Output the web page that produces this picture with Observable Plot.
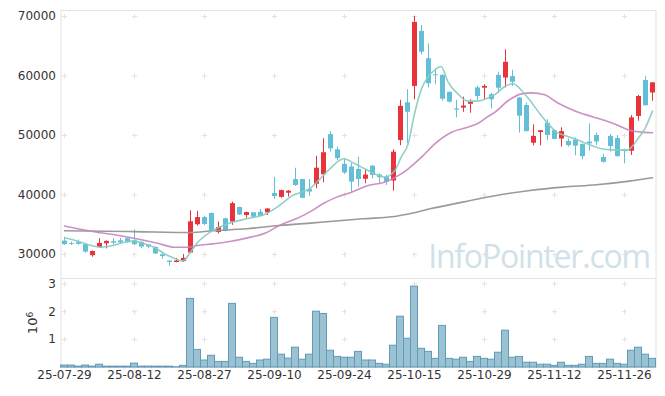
<!DOCTYPE html>
<html><head><meta charset="utf-8">
<script src="https://cdn.jsdelivr.net/npm/d3@7"></script>
<script src="https://cdn.jsdelivr.net/npm/@observablehq/plot@0.6"></script>
<style>
body{margin:0;background:#fff;}
#chart{width:665px;height:396px;}
#chart svg{display:block;}
</style></head><body><div id="chart"></div>
<script>
// x tick labels (every 10th trading day)
const tickLabels = ["25-07-29","25-08-12","25-08-27","25-09-10","25-09-24","25-10-15","25-10-29","25-11-12","25-11-26"];
const tickIndex = [0,10,20,30,40,50,60,70,80];
const priceTicks = [30000,40000,50000,60000,70000];
const volumeTicks = [1,2,3];

const open = [32250,31850,32000,31650,29800,31150,31800,32150,32300,32650,
 32300,32050,31600,31200,29950,28900,28650,28800,30250,35000,
 36200,36900,33700,36000,35450,37900,36550,37000,37100,37000,
 40250,39600,40300,42600,42600,40900,41800,43400,50150,47600,
 45150,44700,44300,42650,44850,43350,43000,42350,49150,55500,
 58250,67500,62900,60200,60100,57250,54450,54600,55250,58000,
 57950,56850,60100,59650,59900,56300,55050,48700,50500,52050,
 50800,49400,49000,49250,48500,48900,50000,46300,49850,49500,
 47600,47350,53200,59250,57150];
const high = [32900,32100,32450,31700,30600,32650,32300,32650,32700,32700,
 34150,32100,31700,31250,30100,28950,29350,30000,37350,37250,
 36450,36950,35450,36100,38800,37950,37100,37050,37550,37700,
 42950,40800,40750,44500,42650,42600,46500,49450,50650,48050,
 46100,45350,46350,44250,44900,43550,43300,47600,55900,57700,
 70000,68500,65400,60900,60200,57300,55900,56450,56000,58250,
 58550,57100,60650,64400,60950,56400,55450,51800,50850,52650,
 50950,51300,49450,49600,48550,51950,50400,46800,50150,50000,
 47700,53350,56750,59900,58900];
const low = [31550,31500,31550,30200,29550,31050,30950,31600,31800,31900,
 31500,31000,30950,30000,29200,28050,28600,28700,30150,34750,
 34850,33750,33450,33800,34900,36550,36100,36100,36350,36550,
 39250,39450,39650,41450,39350,39800,41050,42050,47200,45800,
 43450,40500,41300,41900,42700,41950,41600,40650,48300,48600,
 56000,63550,58000,58550,55750,55450,52950,53900,53750,55900,
 55900,54450,57100,58000,58250,50400,50600,48250,48250,49150,
 49300,48050,48050,46600,45900,47350,48300,45350,47200,46350,
 45250,46650,52400,54950,55750];
const close = [31650,31700,31700,30400,30500,31850,32200,31900,31950,32050,
 31650,31250,31250,30100,29650,28650,28900,29350,35500,36200,
 35050,33850,34550,33900,38550,36650,37050,36250,36400,37650,
 39750,40750,40650,41600,39450,40500,44500,47100,47750,46100,
 43700,42150,42600,43350,43300,42900,42150,47200,54900,53900,
 69000,64000,58700,60050,56100,55600,54250,54950,55600,56550,
 58250,56000,57950,62300,58950,53250,50650,49850,50800,50000,
 49350,50650,48300,48200,46450,48600,48900,45500,48150,46450,
 47350,52950,56550,55000,58850];
// volume in millions
const volume = [0.07,0.07,0.03,0.07,0.03,0.10,0.03,0.03,0.03,0.03,
 0.14,0.03,0.03,0.03,0.03,0.03,0.01,0.06,2.46,0.63,
 0.25,0.42,0.20,0.20,2.28,0.35,0.20,0.13,0.25,0.28,
 1.78,0.46,0.32,0.71,0.28,0.46,2.00,1.92,0.60,0.38,
 0.35,0.35,0.56,0.25,0.25,0.13,0.10,0.78,1.82,1.03,
 2.90,0.67,0.56,0.31,1.49,0.31,0.28,0.35,0.20,0.38,
 0.31,0.28,0.53,1.32,0.35,0.38,0.17,0.17,0.10,0.10,
 0.06,0.17,0.06,0.06,0.10,0.38,0.13,0.13,0.28,0.13,
 0.10,0.60,0.71,0.46,0.31];

// moving averages (position in trading days, value)
const ma5Index = [0,1.9,3.8,5.2,6.9,8.6,10,11.4,12.8,14.3,15.5,16.9,18,19,21,23.6,26,28.8,30.7,32.6,34.1,35,36.5,37.9,39.9,41.5,42.9,44.3,45.7,47.2,48.1,49.1,50,51,51.9,52.9,53.8,54.8,56.2,57.6,59.1,60.5,61.5,62.9,64.1,65.3,66.7,67.9,69.1,70.3,71.5,72.9,74.1,75.3,76.7,78.1,79.3,80.3,81,81.9,82.9,84];
const ma5Value = [32800,32240,31510,31230,31510,32070,32240,31790,31230,30110,29440,28900,30400,32000,33900,35270,36000,36840,38240,39920,40590,41040,42720,44400,46080,45240,44400,43560,43000,44120,46360,48600,53640,57840,59800,61040,61600,58970,57000,55770,55770,56330,56900,58240,58690,57570,55600,53640,51960,50560,50000,49440,48880,48320,47760,47590,47590,47480,48040,49440,51120,54100];
const ma20Index = [0,3.8,8.6,13.3,15.7,17.6,19,21.2,23.6,26,28.8,30.7,33.1,35,36.9,38.8,41,43.4,45.7,48.1,49.1,51,52.9,55.3,57.6,59.1,60.5,61.5,63.4,65.3,66.7,68.6,70.3,71.7,73.4,75.3,77.2,79.1,80.5,82.4,84];
const ma20Value = [34800,33920,33030,31900,31230,31230,31510,31790,32190,32750,33640,34880,36000,37120,38520,39600,40480,41600,42160,43560,44400,46360,48600,50560,51400,52070,53200,53920,55880,57000,57170,56840,55600,54760,53920,53200,52520,51680,50950,50560,50450];
const ma60Index = [0,10,18,21.2,26,30.7,35.5,37.9,42.6,47.4,49.3,52.2,56.9,61.7,66.5,71.2,76,80.7,84];
const ma60Value = [34000,33850,33700,33980,34320,34880,35320,35550,36000,36440,36840,37680,38800,39920,40760,41320,41710,42330,42890];

const FONT = "DejaVu Sans";
const UP = "#e8333a", DOWN = "#63bed8";
const candles = open.map((o, i) => ({i, o, h: high[i], l: low[i], c: close[i], v: volume[i], col: close[i] >= o ? UP : DOWN}));
const toPts = (xs, ys) => xs.map((x, k) => ({x, y: ys[k]}));
const xDomain = [-0.5, 84.5];
const crossP = tickIndex.flatMap(x => priceTicks.map(y => ({x, y})));
const crossV = tickIndex.flatMap(x => volumeTicks.map(y => ({x, y})));
const baseStyle = {fontFamily: FONT, fontSize: "12px", color: "#333", background: "#fff", overflow: "visible"};

const price = Plot.plot({
  width: 665, height: 278,
  marginLeft: 60.5, marginRight: 9.5, marginTop: 10, marginBottom: 0,
  style: baseStyle,
  color: {type: "identity"},
  x: {domain: xDomain, axis: null},
  y: {domain: [25966, 71008], ticks: priceTicks, tickSize: 0, tickPadding: 5, tickFormat: d3.format("d"), label: null},
  marks: [
    Plot.frame({stroke: "#e2e2e2"}),
    Plot.dot(crossP, {x: "x", y: "y", symbol: "plus", r: 1.8, stroke: "#e2e2e2", strokeWidth: 1}),
    Plot.text(["InfoPointer.com"], {frameAnchor: "bottom-right", textAnchor: "end", lineAnchor: "bottom", dx: -6, dy: -11, fontSize: 32, fill: "#d0e1e9", fontFamily: "Open Sans"}),
    Plot.ruleX(candles, {x: "i", y1: "l", y2: "h", stroke: "col", strokeWidth: 1}),
    Plot.ruleX(candles, {x: "i", y1: "o", y2: "c", stroke: "col", strokeWidth: 5}),
    Plot.line(toPts(ma60Index, ma60Value), {x: "x", y: "y", stroke: "#9a9a9a", strokeWidth: 1.6, curve: "monotone-x"}),
    Plot.line(toPts(ma20Index, ma20Value), {x: "x", y: "y", stroke: "#c884c0", strokeWidth: 1.6, strokeOpacity: 0.9, curve: "monotone-x"}),
    Plot.line(toPts(ma5Index, ma5Value), {x: "x", y: "y", stroke: "#86cbbf", strokeWidth: 1.6, strokeOpacity: 0.9, curve: "monotone-x"})
  ]
});

const vol = Plot.plot({
  width: 665, height: 118,
  marginLeft: 60.5, marginRight: 9.5, marginTop: 0, marginBottom: 29,
  style: baseStyle,
  x: {domain: xDomain, ticks: tickIndex, tickFormat: d => tickLabels[tickIndex.indexOf(d)], tickSize: 0, tickPadding: 3, label: null},
  y: {domain: [0, 3.19], ticks: volumeTicks, tickSize: 0, tickPadding: 5, tickFormat: d3.format("d"), label: null},
  marks: [
    Plot.frame({stroke: "#e2e2e2"}),
    Plot.dot(crossV, {x: "x", y: "y", symbol: "plus", r: 1.8, stroke: "#e2e2e2", strokeWidth: 1}),
    Plot.rect(candles, {x1: d => d.i - 0.5, x2: d => d.i + 0.5, y1: 0, y2: "v", fill: "#9bc2d3", stroke: "#5f9ab6", strokeWidth: 1}),
    Plot.text(["10⁶"], {frameAnchor: "left", textAnchor: "middle", lineAnchor: "middle", dx: -28.5, rotate: -90, fontSize: 13, fill: "#333"})
  ]
});

const root = document.getElementById("chart");
root.appendChild(price);
root.appendChild(vol);
d3.select(price).selectAll("text").filter(function(){ return this.textContent === "InfoPointer.com"; })
  .attr("letter-spacing", "-1.2px");
// render the exponent as a real superscript
d3.select(vol).selectAll("text").filter(function(){ return this.textContent === "10⁶"; })
  .each(function(){
    const t = d3.select(this);
    t.text(null);
    t.append("tspan").text("10");
    t.append("tspan").attr("dy", "-0.45em").attr("font-size", "9px").text("6");
  });
</script>
</body></html>
